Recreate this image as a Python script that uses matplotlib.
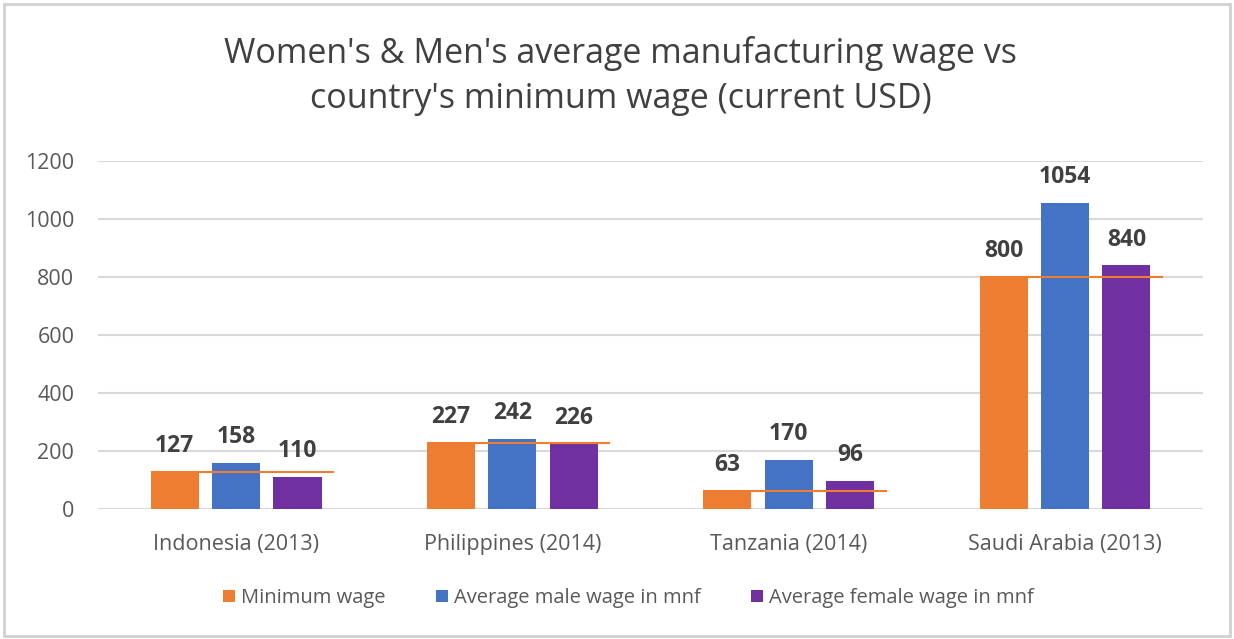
#!/usr/bin/env python3
"""Grouped bars: manufacturing wages by sex vs. minimum wage."""

import matplotlib
matplotlib.use('Agg')
from matplotlib import pyplot as plt
from matplotlib.patches import Rectangle
import numpy as np

COUNTRIES = ['Indonesia (2013)', 'Philippines (2014)', 'Tanzania (2014)',
             'Saudi Arabia (2013)']
MIN_WAGE = [127, 227, 63, 800]
MALE_WAGE = [158, 242, 170, 1054]
FEMALE_WAGE = [110, 226, 96, 840]
SERIES = ['Minimum wage', 'Average male wage in mnf',
          'Average female wage in mnf']
COLORS = ['#ED7D31', '#4472C4', '#7030A0']
YTICKS = [0, 200, 400, 600, 800, 1000, 1200]


def main():
    plt.rcParams['font.family'] = ['Open Sans', 'DejaVu Sans']
    fig = plt.figure(figsize=(12.34, 6.39), dpi=100)
    ax = fig.add_axes([0.0794, 0.2034, 0.8956, 0.5446])

    x = np.arange(len(COUNTRIES))
    step = 0.222
    width = 0.174
    values = [MIN_WAGE, MALE_WAGE, FEMALE_WAGE]
    for i, (vals, name, col) in enumerate(zip(values, SERIES, COLORS)):
        pos = x + (i - 1) * step
        ax.bar(pos, vals, width, color=col, label=name, zorder=2)
        for px, v in zip(pos, vals):
            ax.annotate(str(v), (px, v), xytext=(0, 10),
                        textcoords='offset points', ha='center', va='bottom',
                        fontsize=16.5, fontweight='bold', color='#404040')

    # minimum wage reference line across each group
    ax.hlines(MIN_WAGE, x - step - width / 2, x + step + width / 2 + 0.045,
              color='#ED7D31', linewidth=1.5, zorder=3)

    ax.set_xlim(-0.5, len(COUNTRIES) - 0.5)
    ax.set_ylim(0, 1200)
    ax.set_yticks(YTICKS)
    ax.set_xticks(x)
    ax.set_xticklabels(COUNTRIES)
    ax.tick_params(length=0, labelsize=15.5, colors='#595959')
    ax.tick_params(axis='x', pad=18)
    ax.tick_params(axis='y', pad=17)
    ax.grid(axis='y', color='#d9d9d9', linewidth=1.5, zorder=0)
    ax.set_axisbelow(True)
    for s in ax.spines.values():
        s.set_visible(False)

    fig.text(0.503, 0.881, "Women's & Men's average manufacturing wage vs\n"
             "country's minimum wage (current USD)", ha='center', va='center',
             fontsize=24.5, color='#404040', linespacing=1.42)

    ax.legend(loc='center', bbox_to_anchor=(0.5 - 0.02, -0.256), ncol=3,
              frameon=False, fontsize=14.5, handlelength=0.6, handleheight=0.6,
              handletextpad=0.3, columnspacing=2.5, labelcolor='#595959')

    fig.patches.append(Rectangle((0.003, 0.004), 0.994, 0.99,
                                 transform=fig.transFigure, fill=False,
                                 edgecolor='#d0d0d0', linewidth=2))
    fig.savefig('out.png')


if __name__ == '__main__':
    main()
